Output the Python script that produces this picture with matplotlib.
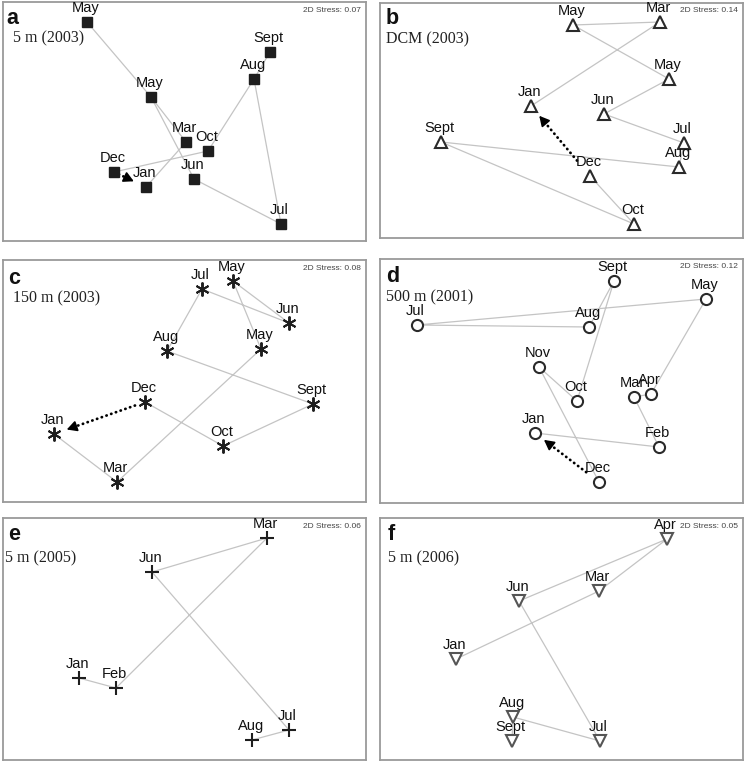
import matplotlib
matplotlib.use("Agg")
import matplotlib.pyplot as plt
import numpy as np

# ---------------- data (ordination coordinates) ----------------
# panel a : 5 m (2003)
a_labels = ["May", "May", "Mar", "Oct", "Dec", "Jan", "Jun", "Jul", "Aug", "Sept"]
a_x = [84, 148, 183, 205, 111, 143, 191, 278, 251, 267]
a_y = [20, 95, 140, 149, 170, 185, 177, 222, 77, 50]
a_paths = [[0, 1, 6, 7, 8, 9], [8, 3, 4], [1, 2, 5]]

# panel b : DCM (2003)
b_labels = ["May", "Mar", "May", "Jan", "Jun", "Sept", "Jul", "Aug", "Dec", "Oct"]
b_x = [193, 280, 289, 151, 224, 61, 304, 299, 210, 254]
b_y = [22, 19, 76, 103, 111, 139, 140, 164, 173, 221]
b_paths = [[3, 1, 0, 2, 4, 6, 7, 5, 9, 8]]

# panel c : 150 m (2003)
c_labels = ["May", "Jul", "Jun", "Aug", "May", "Dec", "Sept", "Jan", "Oct", "Mar"]
c_x = [230, 199, 286, 164, 258, 142, 310, 51, 220, 114]
c_y = [21, 29, 63, 91, 89, 142, 144, 174, 186, 222]
c_paths = [[7, 9, 4, 0, 2, 1, 3, 6, 8, 5]]

# panel d : 500 m (2001)
d_labels = ["Sept", "May", "Jul", "Aug", "Nov", "Oct", "Mar", "Apr", "Jan", "Feb", "Dec"]
d_x = [234, 326, 37, 209, 159, 197, 254, 271, 155, 279, 219]
d_y = [22, 40, 66, 68, 108, 142, 138, 135, 174, 188, 223]
d_paths = [[8, 9, 6, 7, 1, 2, 3, 0, 5, 4, 10]]

# panel e : 5 m (2005)
e_labels = ["Mar", "Jun", "Jan", "Feb", "Jul", "Aug"]
e_x = [264, 149, 76, 113, 286, 249]
e_y = [20, 54, 160, 170, 212, 222]
e_paths = [[2, 3, 0, 1, 4, 5]]

# panel f : 5 m (2006)
f_labels = ["Apr", "Mar", "Jun", "Jan", "Aug", "Sept", "Jul"]
f_x = [287, 219, 139, 76, 133, 132, 220]
f_y = [21, 73, 83, 141, 199, 223, 223]
f_paths = [[3, 1, 0, 2, 6, 4, 5]]

panel_letters = ["a", "b", "c", "d", "e", "f"]
panel_titles = ["5 m (2003)", "DCM (2003)", "150 m (2003)", "500 m (2001)", "5 m (2005)", "5 m (2006)"]
stress_values = ["0.07", "0.14", "0.08", "0.12", "0.06", "0.05"]
# dotted Dec -> Jan arrows: (index of Dec, index of Jan, start fraction, end fraction)
arrows = [(4, 5, 0.15, 0.62), (8, 3, 0.22, 0.86), (5, 7, 0.11, 0.86), (10, 8, 0.2, 0.86), None, None]

# ---------------- layout ----------------
W, H = 746, 763
boxes = [(3, 2, 366, 241), (380, 3, 743, 238),
         (3, 260, 366, 502), (380, 259, 743, 503),
         (3, 518, 366, 760), (380, 518, 743, 760)]
letter_pos = [(3, 16), (6, 15), (5, 18), (6, 18), (5, 17), (8, 17)]
title_pos = [(10, 36), (6, 36), (10, 38), (6, 38), (2, 40), (8, 40)]

styles = [
    dict(marker="s", ms=6.5, mfc="#1e1e1e", mec="#1e1e1e", mew=1.0),
    dict(marker="^", ms=8, mfc="white", mec="#2a2a2a", mew=1.5),
    dict(marker=(6, 2, 0), ms=10, mfc="#1e1e1e", mec="#1e1e1e", mew=1.4),
    dict(marker="o", ms=8, mfc="white", mec="#2a2a2a", mew=1.5),
    dict(marker="+", ms=10, mfc="#1e1e1e", mec="#1e1e1e", mew=1.5),
    dict(marker="v", ms=8, mfc="white", mec="#555555", mew=1.5),
]

data = [(a_labels, a_x, a_y, a_paths), (b_labels, b_x, b_y, b_paths),
        (c_labels, c_x, c_y, c_paths), (d_labels, d_x, d_y, d_paths),
        (e_labels, e_x, e_y, e_paths), (f_labels, f_x, f_y, f_paths)]

fig = plt.figure(figsize=(W / 100, H / 100), dpi=100)
fig.patch.set_facecolor("white")

SANS = "Liberation Sans"
SERIF = "Liberation Serif"

for k in range(6):
    l, t, r, b = boxes[k]
    ax = fig.add_axes([l / W, 1 - b / H, (r - l) / W, (b - t) / H])
    pw, ph = r - l, b - t
    ax.set_xlim(0, pw)
    ax.set_ylim(ph, 0)
    ax.set_xticks([])
    ax.set_yticks([])
    for s in ax.spines.values():
        s.set_color("#9a9a9a")
        s.set_linewidth(1.3)

    labels, xs, ys, paths = data[k]
    xs = np.array(xs, float)
    ys = np.array(ys, float)
    for p in paths:
        ax.plot(xs[p], ys[p], color="#c4c4c4", lw=0.9, zorder=1)

    ax.plot(xs, ys, ls="none", zorder=3, clip_on=False, **styles[k])

    for lab, x, y in zip(labels, xs, ys):
        ax.annotate(lab, (x, y), xytext=(-1, 7.5), textcoords="offset points",
                    ha="center", va="baseline", fontsize=10.5, family=SANS,
                    color="#111111", zorder=4, annotation_clip=False)

    if arrows[k] is not None:
        i0, i1, f0, f1 = arrows[k]
        p0 = np.array([xs[i0], ys[i0]])
        p1 = np.array([xs[i1], ys[i1]])
        s0 = p0 + f0 * (p1 - p0)
        s1 = p0 + f1 * (p1 - p0)
        d = (s1 - s0) / np.linalg.norm(s1 - s0)
        e1 = s1 - 4 * d
        ax.plot([s0[0], e1[0]], [s0[1], e1[1]], color="black", lw=2.0,
                ls=(0, (0.1, 1.7)), dash_capstyle="round", zorder=2)
        ax.annotate("", xy=(s1[0], s1[1]), xytext=(s1[0] - 3 * d[0], s1[1] - 3 * d[1]),
                    arrowprops=dict(arrowstyle="-|>,head_length=0.6,head_width=0.32",
                                    color="black", lw=1.2, shrinkA=0, shrinkB=0),
                    zorder=2)

    lx, ly = letter_pos[k]
    ax.text(lx, ly, panel_letters[k], fontsize=15.5, fontweight="bold", family=SANS,
            ha="left", va="center", color="#111111")
    tx, ty = title_pos[k]
    ax.text(tx, ty, panel_titles[k], fontsize=11.5, family=SERIF,
            ha="left", va="center", color="#222222")
    ax.text(pw - 5, 8, "2D Stress: " + stress_values[k], fontsize=6, family=SANS,
            ha="right", va="center", color="#444444")

fig.savefig("out.png", dpi=100, facecolor="white")
